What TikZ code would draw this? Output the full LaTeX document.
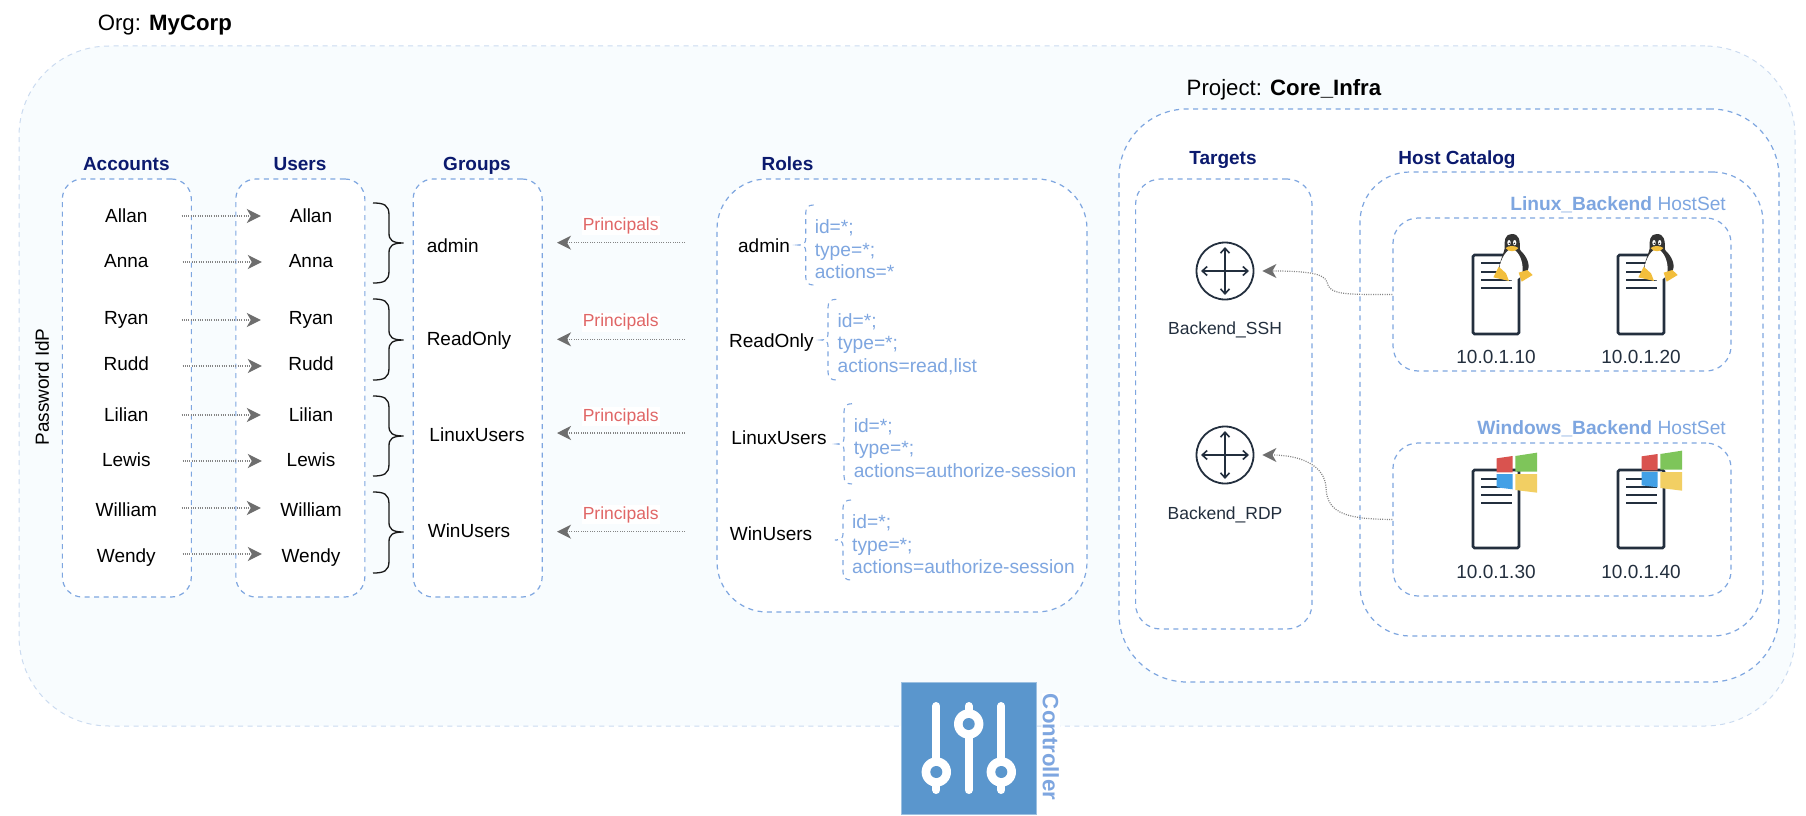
\documentclass[tikz,border=0pt]{standalone}
\usepackage{fontspec}
\setmainfont{Liberation Sans}
\usetikzlibrary{arrows.meta}
\definecolor{orgfill}{HTML}{F8FCFE}
\definecolor{orgline}{HTML}{CBDBF0}
\definecolor{blueline}{HTML}{7EA6E0}
\definecolor{navy}{HTML}{0B1A6E}
\definecolor{redtxt}{HTML}{E06666}
\definecolor{arrowgray}{HTML}{6E6E6E}
\definecolor{ink}{HTML}{232F3E}
\definecolor{ctrlblue}{HTML}{5A96CD}
\definecolor{winred}{HTML}{D9534F}
\definecolor{wingreen}{HTML}{7EC55A}
\definecolor{winblue}{HTML}{42A0E6}
\definecolor{winyellow}{HTML}{F2CF63}
\definecolor{tuxyellow}{HTML}{F2BE3C}
\newcommand{\szA}{\fontsize{19}{22.5}\selectfont}
\newcommand{\szD}{\fontsize{19.2}{22.5}\selectfont}
\newcommand{\szB}{\fontsize{22.2}{26}\selectfont}
\newcommand{\szC}{\fontsize{17.5}{21}\selectfont}
\newcommand{\groupbrace}[3]{%
  \draw[bracestyle] (373,#1) .. controls (384,#1) and (389,#1+2) .. (389,#1+12) -- (389,#2-10)
    .. controls (389,#2-3) and (392,#2) .. (403.7,#2) .. controls (392,#2) and (389,#2+3) .. (389,#2+10)
    -- (389,#3-12) .. controls (389,#3-2) and (384,#3) .. (373,#3);}
\newcommand{\rolebrace}[6]{%
  \draw[rolebracestyle] (#1,#4) .. controls (#2+3,#4) and (#2,#4+2) .. (#2,#4+8) -- (#2,#5-6)
    .. controls (#2,#5-2) and (#2-2,#5) .. (#3,#5) .. controls (#2-2,#5) and (#2,#5+2) .. (#2,#5+6)
    -- (#2,#6-8) .. controls (#2,#6-2) and (#2+3,#6) .. (#1,#6);}
\tikzset{
  dbox/.style={draw=blueline,fill=white,line width=1.2pt,dash pattern=on 5pt off 4.5pt,inner sep=0pt,rectangle},
  headlabel/.style={font=\szA\bfseries,text=navy,inner sep=0pt,text height=14pt,text depth=4pt},
  namelabel/.style={font=\szA,text=black,inner sep=0pt,text height=14pt,text depth=4pt},
  princlabel/.style={font=\szC,text=redtxt,fill=white,inner sep=1pt,text height=13pt,text depth=4pt},
  policylabel/.style={font=\szD,text=blueline,inner sep=0pt,anchor=west,align=left},
  hostsetlabel/.style={font=\szD,text=blueline,inner sep=0pt,anchor=east},
  iplabel/.style={font=\szA,text=ink,inner sep=0pt},
  tgtlabel/.style={font=\szC,text=ink,inner sep=0pt},
  flowline/.style={draw=arrowgray!85,line width=1.2pt,dash pattern=on 1pt off 1.3pt,
    -{Stealth[length=14pt,width=14pt,inset=4pt,color=arrowgray,fill=arrowgray]}},
  bracestyle/.style={draw=black!90,line width=1.3pt},
  rolebracestyle/.style={draw=blueline,line width=1.1pt,dash pattern=on 5pt off 4.5pt},
  routerbox/.style={circle,draw=ink,line width=1.8pt,minimum size=57pt,inner sep=0pt,fill=white},
  pics/serverbody/.style={code={
    \draw[ink,line width=2.6pt,rounded corners=1.5pt,fill=white] (0,0) rectangle (46,#1);
  }},
  pics/srvlines/.style={code={
    \foreach \yy in {#1}
      \draw[ink,line width=2.4pt] (8,\yy) -- (38.7,\yy);
  }},
  pics/tux/.style={code={
    \fill[black!80] (215,42) .. controls (195,42) and (192,62) .. (194,85)
      .. controls (190,105) and (176,130) .. (176,155)
      .. controls (180,180) and (240,185) .. (258,160)
      .. controls (275,140) and (262,110) .. (240,90)
      .. controls (240,60) and (238,42) .. (215,42) -- cycle;
    \fill[white] (215,86) .. controls (195,90) and (176,130) .. (178,155)
      .. controls (190,188) and (238,190) .. (247,160)
      .. controls (252,130) and (238,92) .. (215,86) -- cycle;
    \fill[white] (207,68) ellipse (5 and 8);
    \fill[white] (224,68) ellipse (5 and 8);
    \fill[black!85] (208,70) circle (2.5);
    \fill[black!85] (223,70) circle (2.5);
    \fill[tuxyellow] (197,84) .. controls (205,76) and (226,76) .. (235,84)
      .. controls (228,97) and (204,97) .. (197,84) -- cycle;
    \fill[tuxyellow] (160,172) -- (176,140) -- (198,160) -- (207,183) -- cycle;
    \fill[tuxyellow] (236,158) -- (262,150) -- (278,165) -- (245,185) -- cycle;
  }},
  pics/winlogo/.style={code={
    \fill[winred] (170,55) -- (218,48) -- (218,97) -- (170,97) -- cycle;
    \fill[wingreen] (226,48) -- (291,38) -- (291,95) -- (226,95) -- cycle;
    \fill[winblue] (170,102) -- (218,102) -- (218,148) -- (170,142) -- cycle;
    \fill[winyellow] (226,102) -- (291,102) -- (291,158) -- (226,150) -- cycle;
  }},
}
\begin{document}
\begin{tikzpicture}[x=1pt,y=-1pt]
\useasboundingbox (0,0) rectangle (1806,816);
% outer org
\node[rectangle,draw=orgline,fill=orgfill,line width=1pt,dash pattern=on 5pt off 4.5pt,rounded corners=90pt,
  minimum width=1776pt,minimum height=680pt,inner sep=0pt] (org) at (907,386) {};
\node[inner sep=0pt,anchor=west,font=\szB] (orgt) at (97.6,25) {Org: \textbf{MyCorp}};
\node[inner sep=0pt,rotate=90,font=\szA] (idp) at (42,387) {Password IdP};
% boxes
\node[dbox,rounded corners=20pt,minimum width=129pt,minimum height=418pt] (accounts) at (126.85,388) {};
\node[dbox,rounded corners=20pt,minimum width=129pt,minimum height=418pt] (users) at (300.35,388) {};
\node[dbox,rounded corners=20pt,minimum width=129pt,minimum height=418pt] (groups) at (477.65,388) {};
\node[dbox,rounded corners=50pt,minimum width=370pt,minimum height=433pt] (roles) at (902,395.5) {};
\node[dbox,rounded corners=68pt,minimum width=660pt,minimum height=573pt] (project) at (1449,395.5) {};
\node[dbox,rounded corners=25pt,minimum width=176.4pt,minimum height=450pt] (targets) at (1223.8,404) {};
\node[dbox,rounded corners=50pt,minimum width=403pt,minimum height=464pt] (catalog) at (1561.5,404) {};
\node[dbox,rounded corners=25pt,minimum width=338pt,minimum height=153pt] (linuxset) at (1562,294.5) {};
\node[dbox,rounded corners=25pt,minimum width=338pt,minimum height=153pt] (winset) at (1562,519.5) {};
% titles
\node[headlabel] (t1) at (126.3,165.7) {Accounts};
\node[headlabel] (t2) at (300,165.7) {Users};
\node[headlabel] (t3) at (477,165.7) {Groups};
\node[headlabel] (t4) at (787.5,165.7) {Roles};
\node[headlabel] (t5) at (1223,159) {Targets};
\node[headlabel] (t6) at (1457,159) {Host Catalog};
\node[inner sep=0pt,anchor=west,font=\szB] (prj) at (1186.5,90) {Project: \textbf{Core\_Infra}};
\node[hostsetlabel] (ls) at (1726,205) {\textbf{Linux\_Backend} HostSet};
\node[hostsetlabel] (ws) at (1726,429) {\textbf{Windows\_Backend} HostSet};
% accounts and users
\foreach \n/\lab/\yy/\dy/\dx in {1/Allan/217.7/1.7/0,2/Anna/262/0/1,3/Ryan/319.3/-0.7/0,4/Rudd/365/-1/1,5/Lilian/416/1/0,6/Lewis/461/0/1,7/William/511.7/3.7/0,8/Wendy/557.3/3.3/1}{
  \node[namelabel,minimum width=110pt] (a\n) at (126.3,\yy) {\lab};
  \node[namelabel,minimum width=100pt] (u\n) at (311,\yy) {\lab};
  \draw[flowline] ([xshift=\dx pt,yshift=\dy pt]a\n.east) -- ([xshift=\dx pt,yshift=\dy pt]u\n.west);
}
% braces
\groupbrace{203}{243}{283}
\groupbrace{299}{340}{380}
\groupbrace{396}{436}{476}
\groupbrace{492}{532}{573}
% groups
\node[namelabel] (g1) at (452.7,247.7) {admin};
\node[namelabel] (g2) at (469,340) {ReadOnly};
\node[namelabel] (g3) at (477,436.7) {LinuxUsers};
\node[namelabel] (g4) at (469,532.7) {WinUsers};
% roles
\node[namelabel] (r1) at (764,247.7) {admin};
\node[namelabel] (r2) at (771.4,342.7) {ReadOnly};
\node[namelabel] (r3) at (779,439) {LinuxUsers};
\node[namelabel] (r4) at (771,535) {WinUsers};
\rolebrace{813.6}{805.7}{798}{205}{245}{285}
\rolebrace{836.4}{828}{821}{299.3}{340}{380}
\rolebrace{852}{844}{837}{403.7}{444}{484}
\rolebrace{851}{843}{835}{500}{540}{580}
\node[policylabel] (p1) at (814.6,249.5) {id=*;\\type=*;\\actions=*};
\node[policylabel] (p2) at (837.5,344) {id=*;\\type=*;\\actions=read,list};
\node[policylabel] (p3) at (853.6,448) {id=*;\\type=*;\\actions=authorize-session};
\node[policylabel] (p4) at (852,544.5) {id=*;\\type=*;\\actions=authorize-session};
% principals
\node[princlabel] (pl1) at (620.7,225.5) {Principals};
\node[princlabel] (pl2) at (620.7,322.2) {Principals};
\node[princlabel] (pl3) at (620.7,416.5) {Principals};
\node[princlabel] (pl4) at (620.7,514.8) {Principals};
\draw[flowline] ([xshift=-79pt,yshift=5pt]r1.center) -- ([xshift=104.3pt,yshift=5pt]g1.center);
\draw[flowline] ([xshift=-86.4pt,yshift=3.4pt]r2.center) -- ([xshift=88pt,yshift=0.7pt]g2.center);
\draw[flowline] ([xshift=-94pt,yshift=6pt]r3.center) -- ([xshift=80pt,yshift=3.7pt]g3.center);
\draw[flowline] ([xshift=-86pt,yshift=3.3pt]r4.center) -- ([xshift=88pt,yshift=1pt]g4.center);
% routers
\node[routerbox] (ssh) at (1225,271) {};
\node[routerbox] (rdp) at (1225,455) {};
\foreach \c in {ssh,rdp}{
  \draw[ink,line width=1.6pt,{Straight Barb[length=5pt,width=9pt]}-{Straight Barb[length=5pt,width=9pt]}] ([xshift=-24pt]\c.center) -- ([xshift=24pt]\c.center);
  \draw[ink,line width=1.6pt,{Straight Barb[length=5pt,width=9pt]}-{Straight Barb[length=5pt,width=9pt]}] ([yshift=-24pt]\c.center) -- ([yshift=24pt]\c.center);
}
\node[tgtlabel] (sshl) at (1225,330) {Backend\_SSH};
\node[tgtlabel] (rdpl) at (1225,515) {Backend\_RDP};
% curved connectors
\draw[flowline,shorten >=8pt] (linuxset.west) .. controls (1345,294.5) and (1329,295) .. (1327,282)
  .. controls (1324,273) and (1305,271) .. (ssh.east);
\draw[flowline,shorten >=8pt] (winset.west) .. controls (1350,519) and (1327,515) .. (1326,488)
  .. controls (1325,465) and (1300,455) .. (rdp.east);
% servers
\foreach \sx in {1473,1618}{
  \pic at (\sx,255) {serverbody=79};
  \pic at (\sx,255) {srvlines={8,17,25,33}};
  \pic at (\sx,470) {serverbody=78};
  \pic at (\sx,470) {srvlines={9,17,25,33}};
}
\pic[scale=0.3333] at (1440,220) {tux};
\pic[scale=0.3333] at (1585,220) {tux};
\pic[scale=0.3333] at (1440,440) {winlogo};
\pic[scale=0.3333] at (1585,438) {winlogo};
\node[iplabel] (ip1) at (1496,357) {10.0.1.10};
\node[iplabel] (ip2) at (1641,357) {10.0.1.20};
\node[iplabel] (ip3) at (1496,572) {10.0.1.30};
\node[iplabel] (ip4) at (1641,572) {10.0.1.40};
% controller
\node[rectangle,fill=ctrlblue,draw=ctrlblue!60!white,line width=0.8pt,minimum width=134.7pt,minimum height=131.3pt,inner sep=0pt] (ctrl) at (968.7,748.4) {};
\foreach \kx/\ky in {936.3/772,968.7/724,1001.3/772}{
  \draw[white,line width=8pt,line cap=round] (\kx,706) -- (\kx,790);
  \fill[white] (\kx,\ky) circle (14.7);
  \fill[ctrlblue] (\kx,\ky) circle (6);
}
\node[rotate=-90,inner sep=1pt,fill=white,font=\szB\bfseries,text=blueline] (ctrll) at (1050.7,747) {Controller};
\end{tikzpicture}
\end{document}
